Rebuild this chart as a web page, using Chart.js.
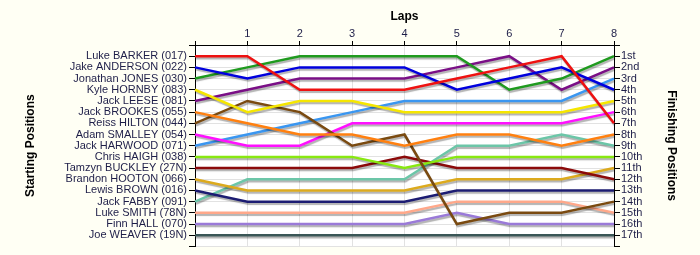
<!DOCTYPE html>
<html lang="en">
<head>
<meta charset="UTF-8">
<script src="https://cdn.jsdelivr.net/npm/chart.js"></script>
<title>Lap chart</title>
<style>
  body { margin: 0; background: #fffff4; }
  canvas { display: block; }
</style>
</head>
<body>
<canvas id="lap-chart" width="700" height="255"></canvas>
<script>
// laps along the top, lap 0 is the grid
var laps = [0, 1, 2, 3, 4, 5, 6, 7, 8];

// riders in starting order
var riders = [
  'Luke BARKER (017)', 'Jake ANDERSON (022)', 'Jonathan JONES (030)', 'Kyle HORNBY (083)',
  'Jack LEESE (081)', 'Jack BROOKES (055)', 'Reiss HILTON (044)', 'Adam SMALLEY (054)',
  'Jack HARWOOD (071)', 'Chris HAIGH (038)', 'Tamzyn BUCKLEY (27N)', 'Brandon HOOTON (066)',
  'Lewis BROWN (016)', 'Jack FABBY (091)', 'Luke SMITH (78N)', 'Finn HALL (070)', 'Joe WEAVER (19N)'
];

var finishLabels = ['1st', '2nd', '3rd', '4th', '5th', '6th', '7th', '8th', '9th',
  '10th', '11th', '12th', '13th', '14th', '15th', '16th', '17th'];

// position of each rider at the end of every lap
var barker   = [1, 1, 4, 4, 4, 3, 2, 1, 7];
var anderson = [2, 3, 2, 2, 2, 4, 3, 2, 4];
var jones    = [3, 2, 1, 1, 1, 1, 4, 3, 1];
var hornby   = [4, 6, 5, 5, 6, 6, 6, 6, 5];
var leese    = [5, 4, 3, 3, 3, 2, 1, 4, 2];
var brookes  = [6, 7, 8, 8, 9, 8, 8, 9, 8];
var hilton   = [7, 5, 6, 9, 8, 16, 15, 15, 14];
var smalley  = [8, 9, 9, 7, 7, 7, 7, 7, 6];
var harwood  = [9, 8, 7, 6, 5, 5, 5, 5, 3];
var haigh    = [10, 10, 10, 10, 11, 10, 10, 10, 10];
var buckley  = [11, 11, 11, 11, 10, 11, 11, 11, 12];
var hooton   = [12, 13, 13, 13, 13, 12, 12, 12, 11];
var brown    = [13, 14, 14, 14, 14, 13, 13, 13, 13];
var fabby    = [14, 12, 12, 12, 12, 9, 9, 8, 9];
var smith    = [15, 15, 15, 15, 15, 14, 14, 14, 15];
var hall     = [16, 16, 16, 16, 16, 15, 16, 16, 16];
var weaver   = [17, 17, 17, 17, 17, 17, 17, 17, 17];

var positions = [barker, anderson, jones, hornby, leese, brookes, hilton, smalley,
  harwood, haigh, buckley, hooton, brown, fabby, smith, hall, weaver];

var colours = ['#ee1111', '#0000dd', '#1f9a1f', '#f5e600', '#7a0f86', '#ff8010',
  '#7a4a10', '#ff10ff', '#3a96f0', '#88e810', '#8b0a0a', '#dcaa1e',
  '#1c1c72', '#6cc6a8', '#ffa88a', '#9a7ad8', '#3a5656'];

var datasets = positions.map(function (p, i) {
  return {
    label: riders[i],
    data: p,
    borderColor: colours[i],
    borderWidth: 2.5,
    fill: false,
    tension: 0,
    pointRadius: 0,
    yAxisID: 'y'
  };
});

var bgPlugin = {
  id: 'bg',
  beforeDraw: function (chart) {
    var ctx = chart.ctx, a = chart.chartArea;
    ctx.save();
    ctx.fillStyle = '#fffff4';
    ctx.fillRect(0, 0, chart.width, chart.height);
    ctx.fillStyle = '#ffffff';
    ctx.fillRect(a.left, a.top, a.right - a.left, a.bottom - a.top);
    ctx.restore();
  },
  // grey drop shadow under every line
  beforeDatasetsDraw: function (chart) {
    var ctx = chart.ctx;
    ctx.save();
    ctx.shadowColor = 'rgba(0,0,0,0.3)';
    ctx.shadowOffsetX = 1;
    ctx.shadowOffsetY = 2;
    ctx.shadowBlur = 1;
  },
  afterDatasetsDraw: function (chart) {
    chart.ctx.restore();
  }
};

var labelColour = '#1e1e48';
var tickFont = { family: '"Liberation Sans", Arial, sans-serif', size: 11 };
var titleFont = { family: '"Liberation Sans", Arial, sans-serif', size: 12, weight: 'bold' };

new Chart(document.getElementById('lap-chart'), {
  type: 'line',
  data: { labels: laps, datasets: datasets },
  plugins: [bgPlugin],
  options: {
    responsive: false,
    animation: false,
    layout: { padding: { bottom: 8 } },
    plugins: { legend: { display: false }, tooltip: { enabled: false } },
    scales: {
      x: {
        position: 'top',
        offset: false,
        afterFit: function (s) { s.height = 45; },
        grid: { color: '#e2e2e2', tickColor: '#000', tickLength: 4 },
        border: { color: '#000', width: 1 },
        ticks: {
          color: labelColour, font: tickFont, padding: 0, maxRotation: 0,
          callback: function (v, i) { return i === 0 ? '' : String(laps[i]); }
        },
        title: { display: true, text: 'Laps', color: '#000', font: titleFont, padding: { top: 9, bottom: 0 } }
      },
      y: {
        position: 'left',
        reverse: true,
        min: 0,
        max: 18,
        afterFit: function (s) { s.width = 195; },
        grid: { color: '#e2e2e2', tickColor: '#000', tickLength: 6 },
        border: { color: '#000', width: 1 },
        ticks: {
          stepSize: 1, autoSkip: false, color: labelColour, font: tickFont, padding: 2,
          callback: function (v) { return riders[v - 1] || ''; }
        },
        title: { display: true, text: 'Starting Positions', color: '#000', font: titleFont, padding: { top: 23, bottom: 0 } }
      },
      y2: {
        position: 'right',
        reverse: true,
        min: 0,
        max: 18,
        afterFit: function (s) { s.width = 86; },
        grid: { drawOnChartArea: false, tickColor: '#000', tickLength: 6 },
        border: { color: '#000', width: 1 },
        ticks: {
          stepSize: 1, autoSkip: false, color: labelColour, font: tickFont, padding: 1,
          callback: function (v) { return finishLabels[v - 1] || ''; }
        },
        title: { display: true, text: 'Finishing Positions', color: '#000', font: titleFont, padding: { top: 21, bottom: 0 } }
      }
    }
  }
});
</script>
</body>
</html>
